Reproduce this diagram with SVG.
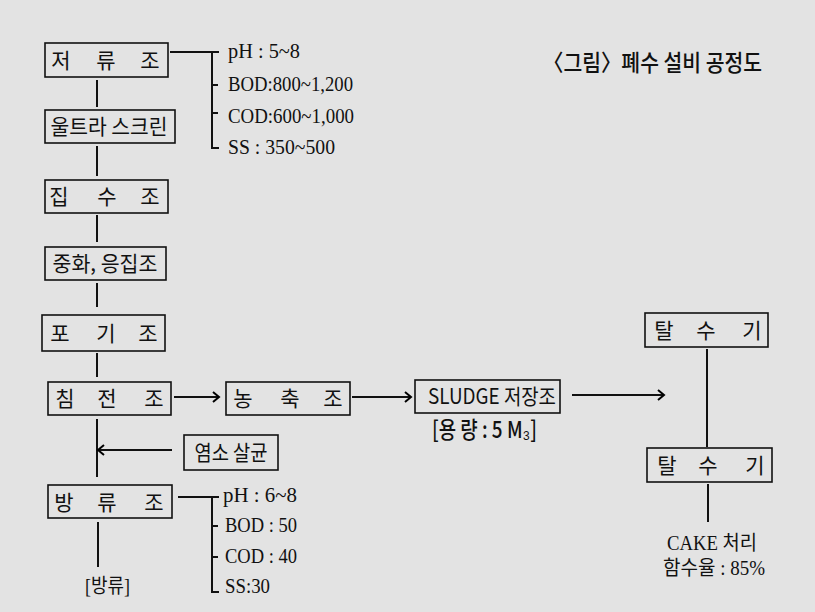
<svg xmlns="http://www.w3.org/2000/svg" width="815" height="612" viewBox="0 0 815 612">
<defs>
<marker id="arr" markerWidth="12" markerHeight="12" refX="9" refY="6" orient="auto" markerUnits="userSpaceOnUse">
<path d="M3,1 L9,6 L3,11" fill="none" stroke="#000" stroke-width="2"/>
</marker>
<style>
.box{fill:none;stroke:#111;stroke-width:1.6}
.ln{fill:none;stroke:#111;stroke-width:2}
.k{font-family:"Noto Sans CJK KR","Noto Sans",sans-serif;font-size:21px;fill:#111;text-anchor:middle}
.s{font-family:"Liberation Serif","Noto Sans CJK KR",serif;font-size:22px;fill:#111}
.ks{font-family:"Liberation Serif","Noto Sans CJK KR",serif;font-size:20px;fill:#111}
.t{font-family:"Noto Sans CJK KR",sans-serif;font-size:23px;font-weight:500;fill:#111}
</style>
</defs>
<rect width="815" height="612" fill="#e3e3e3"/>

<g id="connectors">
<path class="ln" d="M97,80 V107"/>
<path class="ln" d="M97,146 V176"/>
<path class="ln" d="M97,215 V242"/>
<path class="ln" d="M97,283 V307"/>
<path class="ln" d="M97,353 V377"/>
<path class="ln" d="M97,419 V477"/>
<path class="ln" d="M172,450 H98" marker-end="url(#arr)"/>
<path class="ln" d="M98,522 V567"/>
<path class="ln" d="M174,397 H219" marker-end="url(#arr)"/>
<path class="ln" d="M352,397 H411" marker-end="url(#arr)"/>
<path class="ln" d="M572,395 H664" marker-end="url(#arr)"/>
<path class="ln" d="M707,349 V447"/>
<path class="ln" d="M708,484 V522"/>
<path class="ln" d="M170,52 H219 M212,52 V148 H219 M212,85 H218 M212,113 H218"/>
<path class="ln" d="M178,497 H219 M212,497 V592 H219 M212,526 H218 M212,557 H218"/>
</g>

<g id="title"><text class="t" x="543" y="71" textLength="219" lengthAdjust="spacingAndGlyphs">〈그림〉폐수 설비 공정도</text></g>

<g id="n1"><rect class="box" x="45" y="43" width="123" height="34"/><text class="k" x="61 106 150" y="68">저류조</text></g>
<g id="n2"><rect class="box" x="45" y="110" width="130" height="33"/><text class="k" x="109" y="134" font-size="20" textLength="117" lengthAdjust="spacingAndGlyphs">울트라 스크린</text></g>
<g id="n3"><rect class="box" x="45" y="180" width="123" height="33"/><text class="k" x="59 107 150" y="204">집수조</text></g>
<g id="n4"><rect class="box" x="45" y="247" width="121" height="33"/><text class="k" x="105" y="271" font-size="20" textLength="105" lengthAdjust="spacingAndGlyphs">중화, 응집조</text></g>
<g id="n5"><rect class="box" x="42" y="315" width="123" height="36"/><text class="k" x="60 106 148" y="341">포기조</text></g>
<g id="n6"><rect class="box" x="48" y="382" width="123" height="33"/><text class="k" x="65 107 154" y="406">침전조</text></g>
<g id="n7"><rect class="box" x="226" y="382" width="124" height="33"/><text class="k" x="243 290 333" y="406">농축조</text></g>
<g id="n8"><rect class="box" x="415" y="380" width="145" height="33"/><text class="k" x="492" y="404" font-size="20" textLength="128" lengthAdjust="spacingAndGlyphs">SLUDGE 저장조</text>
<text class="t" x="432" y="438" font-size="18" textLength="105" lengthAdjust="spacingAndGlyphs">[용 량 : 5 M₃]</text></g>
<g id="n9"><rect class="box" x="645" y="313" width="123" height="34"/><text class="k" x="664 706 752" y="338">탈수기</text></g>
<g id="n10"><rect class="box" x="647" y="448" width="125" height="34"/><text class="k" x="667 708 755" y="473">탈수기</text></g>
<g id="n11"><rect class="box" x="184" y="435" width="94" height="35"/><text class="k" x="231" y="460" font-size="18" textLength="73" lengthAdjust="spacingAndGlyphs">염소 살균</text></g>
<g id="n12"><rect class="box" x="48" y="485" width="124" height="33"/><text class="k" x="64 107 154" y="510">방류조</text></g>

<g id="spec1">
<text class="s" x="228" y="58" textLength="72" lengthAdjust="spacingAndGlyphs">pH : 5~8</text>
<text class="s" x="228" y="91" textLength="125" lengthAdjust="spacingAndGlyphs">BOD:800~1,200</text>
<text class="s" x="228" y="123" textLength="126" lengthAdjust="spacingAndGlyphs">COD:600~1,000</text>
<text class="s" x="228" y="154" textLength="107" lengthAdjust="spacingAndGlyphs">SS : 350~500</text>
</g>
<g id="spec2">
<text class="s" x="223" y="502" textLength="74" lengthAdjust="spacingAndGlyphs">pH : 6~8</text>
<text class="s" x="225" y="532" textLength="72" lengthAdjust="spacingAndGlyphs">BOD : 50</text>
<text class="s" x="225" y="563" textLength="72" lengthAdjust="spacingAndGlyphs">COD : 40</text>
<text class="s" x="225" y="593" textLength="45" lengthAdjust="spacingAndGlyphs">SS:30</text>
</g>
<g id="out"><text class="ks" x="85" y="593" textLength="45" lengthAdjust="spacingAndGlyphs">[방류]</text></g>
<g id="cake">
<text class="ks" x="667" y="550" textLength="90" lengthAdjust="spacingAndGlyphs">CAKE 처리</text>
<text class="ks" x="663" y="575" textLength="102" lengthAdjust="spacingAndGlyphs">함수율 : 85%</text>
</g>
</svg>
